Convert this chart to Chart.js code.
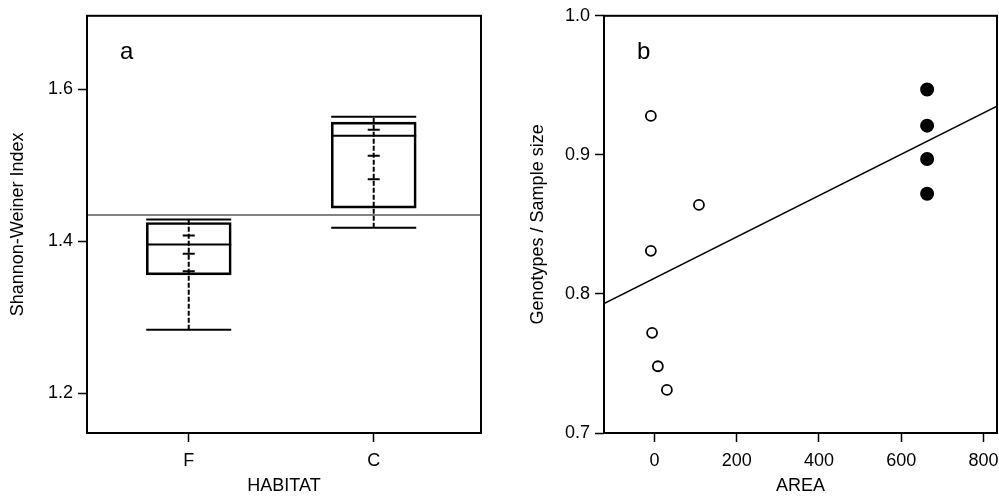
<!DOCTYPE html>
<html lang="en">
<head>
    <meta charset="UTF-8">
    <title>Shannon-Weiner Index and Genotypes / Sample size</title>
    <script src="https://cdn.jsdelivr.net/npm/chart.js"></script>
    <style>
        body {
            margin: 0;
            width: 999px;
            height: 497px;
            position: relative;
            overflow: hidden;
            background: #ffffff;
        }
        canvas { position: absolute; top: 0; }
        #panelA { left: 0; }
        #panelB { left: 500px; }
    </style>
</head>
<body>
    <canvas id="panelA" width="500" height="497"></canvas>
    <canvas id="panelB" width="499" height="497"></canvas>

    <script>
        // ---- panel a : box plots by habitat ----
        const habitats = ['F', 'C'];
        const habitatPos = [1, 2];
        const boxLow = [1.356, 1.444];
        const boxHigh = [1.425, 1.557];
        const medians = [1.396, 1.539];
        const whiskerLow = [1.284, 1.418];
        const whiskerHigh = [1.429, 1.564];
        const crossF = [1.408, 1.384, 1.361];
        const crossC = [1.547, 1.513, 1.482];
        const overallMean = 1.435;
        const aXRange = [0.45, 2.58];
        const aYRange = [1.148, 1.697];
        const aYTicks = [1.2, 1.4, 1.6];

        // ---- panel b : genotypes / sample size against area ----
        const areaOpen = [-9, 108, -9, -6, 8, 30];
        const ratioOpen = [0.928, 0.864, 0.831, 0.772, 0.748, 0.731];
        const areaFilled = [663, 663, 663, 663];
        const ratioFilled = [0.947, 0.921, 0.897, 0.872];
        const fitArea = [-123, 833];
        const fitRatio = [0.793, 0.935];
        const bXRange = [-123, 833];
        const bYRange = [0.7, 1.0];
        const bXTicks = [0, 200, 400, 600, 800];
        const bYTicks = [0.7, 0.8, 0.9, 1.0];

        const FONT = "'Liberation Sans', Arial, Helvetica, sans-serif";
        Chart.defaults.font.family = FONT;
        Chart.defaults.font.size = 18;
        Chart.defaults.color = '#000000';

        // box round the plot area plus the panel letter
        const framePlugin = {
            id: 'frame',
            afterDatasetsDraw(chart, args, opts) {
                const { ctx, chartArea: a } = chart;
                ctx.save();
                ctx.strokeStyle = '#000000';
                ctx.lineWidth = 2;
                ctx.strokeRect(a.left, a.top, a.right - a.left, a.bottom - a.top);
                ctx.fillStyle = '#000000';
                ctx.font = '24px ' + FONT;
                ctx.textAlign = 'left';
                ctx.textBaseline = 'alphabetic';
                ctx.fillText(opts.label, a.left + 33, a.top + 43);
                ctx.restore();
            }
        };

        const tickGrid = {
            drawOnChartArea: false,
            drawTicks: true,
            tickLength: 9,
            tickColor: '#000000',
            tickWidth: 1.5,
            offset: false
        };

        // fixed axis sizes, no extra room for overhanging labels
        function fixX(s) {
            s.height = 64;
            s.paddingLeft = 0;
            s.paddingRight = 0;
        }

        function pts(xs, ys) {
            return xs.map((x, i) => ({ x: x, y: ys[i] }));
        }

        function pointSet(data, style, radius, extra) {
            return Object.assign({
                type: 'scatter',
                data: data,
                pointStyle: style,
                pointRadius: radius,
                pointBorderColor: '#000000',
                pointBorderWidth: 2,
                pointBackgroundColor: '#000000'
            }, extra || {});
        }

        // ---------- panel a ----------
        const whiskerSets = habitatPos.map((x, i) => ({
            type: 'line',
            data: [{ x: x, y: whiskerLow[i] }, { x: x, y: whiskerHigh[i] }],
            borderColor: '#000000',
            borderWidth: 2,
            borderDash: [5, 2],
            pointRadius: 0
        }));

        new Chart(document.getElementById('panelA'), {
            type: 'bar',
            data: {
                datasets: [
                    {
                        type: 'line',
                        data: [{ x: aXRange[0], y: overallMean }, { x: aXRange[1], y: overallMean }],
                        borderColor: '#5a5a5a',
                        borderWidth: 1.5,
                        pointRadius: 0
                    },
                    ...whiskerSets,
                    {
                        type: 'bar',
                        data: habitatPos.map((x, i) => ({ x: x, y: [boxLow[i], boxHigh[i]] })),
                        backgroundColor: 'rgba(0,0,0,0)',
                        borderColor: '#000000',
                        borderWidth: 2,
                        borderSkipped: false,
                        barThickness: 85
                    },
                    pointSet(pts(habitatPos, whiskerLow).concat(pts(habitatPos, whiskerHigh)), 'line', 42.5),
                    pointSet(pts(habitatPos, medians), 'line', 42.5),
                    pointSet(pts(crossF.map(() => habitatPos[0]), crossF)
                        .concat(pts(crossC.map(() => habitatPos[1]), crossC)), 'line', 6)
                ]
            },
            options: {
                responsive: false,
                animation: false,
                events: [],
                layout: { autoPadding: false, padding: { top: 10, right: 19, left: 0, bottom: 0 } },
                plugins: {
                    legend: { display: false },
                    tooltip: { enabled: false },
                    frame: { label: 'a' }
                },
                scales: {
                    x: {
                        type: 'linear',
                        min: aXRange[0],
                        max: aXRange[1],
                        offset: false,
                        grid: tickGrid,
                        border: { display: false },
                        afterBuildTicks: s => { s.ticks = habitatPos.map(v => ({ value: v })); },
                        afterFit: fixX,
                        ticks: {
                            padding: 8,
                            maxRotation: 0,
                            callback: v => habitats[habitatPos.indexOf(v)]
                        },
                        title: { display: true, text: 'HABITAT', padding: { top: 0, bottom: 0 } }
                    },
                    y: {
                        min: aYRange[0],
                        max: aYRange[1],
                        grid: tickGrid,
                        border: { display: false },
                        afterBuildTicks: s => { s.ticks = aYTicks.map(v => ({ value: v })); },
                        afterFit: s => { s.width = 87; },
                        ticks: { padding: 5, callback: v => v.toFixed(1) },
                        title: { display: true, text: 'Shannon-Weiner Index', padding: { top: 7, bottom: 0 } }
                    }
                }
            },
            plugins: [framePlugin]
        });

        // ---------- panel b ----------
        new Chart(document.getElementById('panelB'), {
            type: 'scatter',
            data: {
                datasets: [
                    {
                        type: 'line',
                        data: pts(fitArea, fitRatio),
                        borderColor: '#000000',
                        borderWidth: 1.5,
                        pointRadius: 0
                    },
                    pointSet(pts(areaOpen, ratioOpen), 'circle', 5,
                        { pointBackgroundColor: '#ffffff', pointBorderWidth: 1.8 }),
                    pointSet(pts(areaFilled, ratioFilled), 'circle', 6)
                ]
            },
            options: {
                responsive: false,
                animation: false,
                events: [],
                layout: { autoPadding: false, padding: { top: 10, right: 2, left: 0, bottom: 0 } },
                plugins: {
                    legend: { display: false },
                    tooltip: { enabled: false },
                    frame: { label: 'b' }
                },
                scales: {
                    x: {
                        type: 'linear',
                        min: bXRange[0],
                        max: bXRange[1],
                        grid: tickGrid,
                        border: { display: false },
                        afterBuildTicks: s => { s.ticks = bXTicks.map(v => ({ value: v })); },
                        afterFit: fixX,
                        ticks: { padding: 8, maxRotation: 0 },
                        title: { display: true, text: 'AREA', padding: { top: 0, bottom: 0 } }
                    },
                    y: {
                        min: bYRange[0],
                        max: bYRange[1],
                        grid: tickGrid,
                        border: { display: false },
                        afterBuildTicks: s => { s.ticks = bYTicks.map(v => ({ value: v })); },
                        afterFit: s => { s.width = 104; },
                        ticks: { padding: 5, callback: v => v.toFixed(1) },
                        title: { display: true, text: 'Genotypes / Sample size', padding: { top: 27, bottom: 0 } }
                    }
                }
            },
            plugins: [framePlugin]
        });
    </script>
</body>
</html>
